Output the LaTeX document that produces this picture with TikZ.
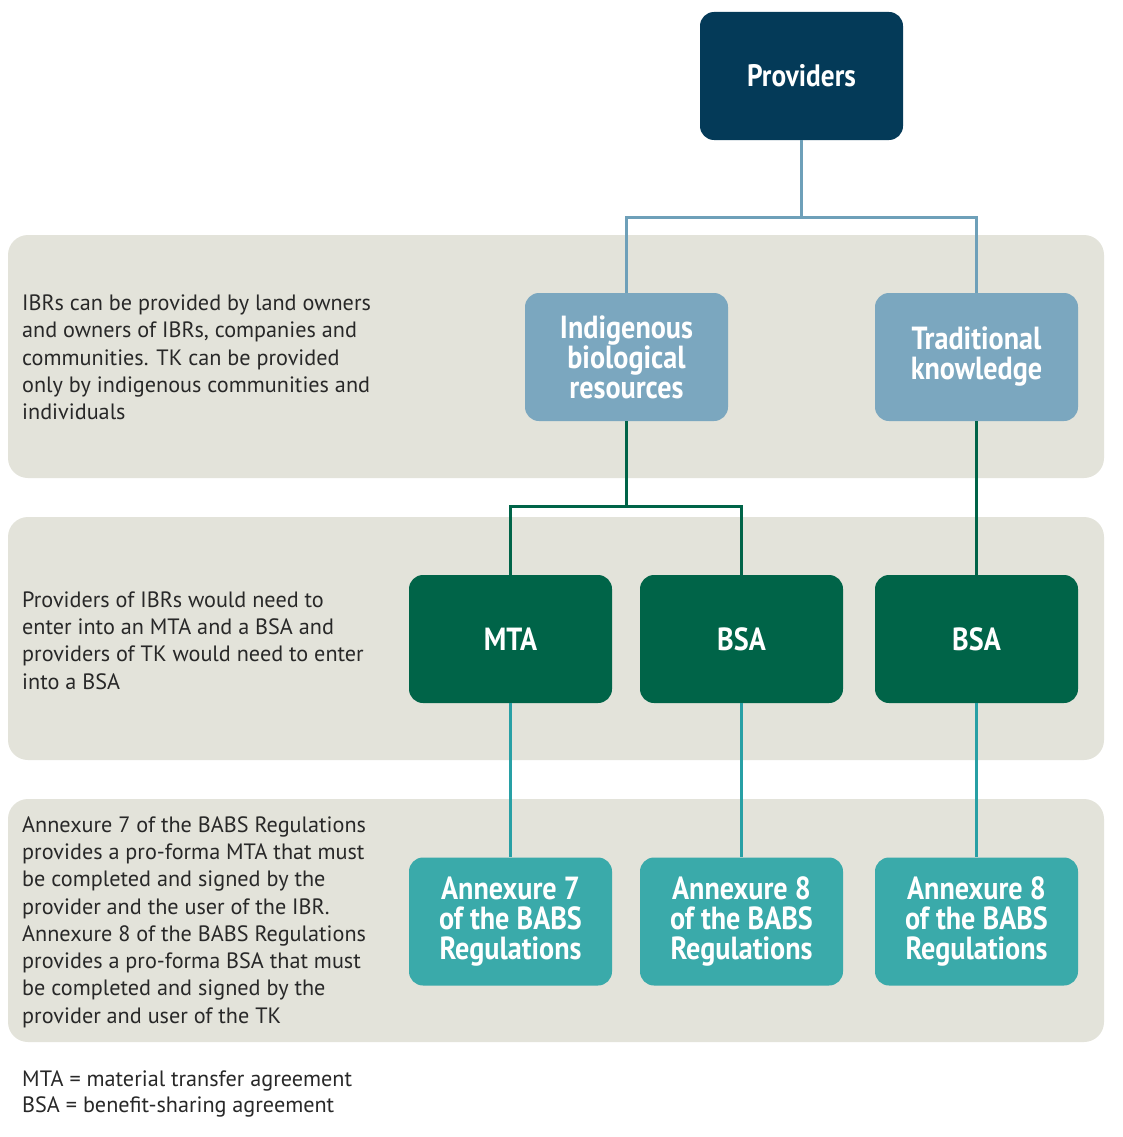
\documentclass[tikz,border=0pt]{standalone}
\usepackage{fontspec}
\setmainfont{PT Sans}
\newfontfamily\condfont{PT Sans}[FakeStretch=0.88]
\definecolor{navy}{RGB}{4,58,88}
\definecolor{lblue}{RGB}{123,167,191}
\definecolor{lbline}{RGB}{110,160,185}
\definecolor{dgreen}{RGB}{0,100,72}
\definecolor{tealbox}{RGB}{58,170,170}
\definecolor{tealline}{RGB}{40,160,165}
\definecolor{bandc}{RGB}{227,227,218}
\definecolor{txtc}{RGB}{40,40,40}
\tikzset{
  band/.style={fill=bandc, rounded corners=20pt},
  boxn/.style={rounded corners=14pt, minimum width=203pt, minimum height=128pt,
    text=white, align=center, inner sep=0pt},
  lefttext/.style={anchor=west, align=left, inner sep=0pt, text=txtc,
    font=\fontsize{22.2}{27.3}\selectfont},
  conn/.style={line width=3pt}
}
\begin{document}
\begin{tikzpicture}[x=1pt,y=-1pt]
\useasboundingbox (0,0) rectangle (1123,1137);
\fill[white] (0,0) rectangle (1123,1137);
% bands
\fill[band] (8,235) rectangle (1104,478);
\fill[band] (8,517) rectangle (1104,760);
\fill[band] (8,799) rectangle (1104,1042);
% boxes
\node[boxn, fill=navy, font=\condfont\bfseries\fontsize{31}{34}\selectfont] (prov) at (801.5,76) {Providers};
\node[boxn, fill=lblue, font=\condfont\bfseries\fontsize{32}{30}\selectfont] (ibr) at (626.5,357) {Indigenous\\biological\\resources};
\node[boxn, fill=lblue, font=\condfont\bfseries\fontsize{32}{30}\selectfont] (tk) at (976.5,357) {Traditional\\knowledge};
\node[boxn, fill=dgreen, font=\condfont\bfseries\fontsize{32}{30}\selectfont] (mta) at (510.5,639) {MTA};
\node[boxn, fill=dgreen, font=\condfont\bfseries\fontsize{32}{30}\selectfont] (bsa1) at (741.5,639) {BSA};
\node[boxn, fill=dgreen, font=\condfont\bfseries\fontsize{32}{30}\selectfont] (bsa2) at (976.5,639) {BSA};
\node[boxn, fill=tealbox, font=\condfont\bfseries\fontsize{32}{30}\selectfont] (a7) at (510.5,921.5) {Annexure 7\\of the BABS\\Regulations};
\node[boxn, fill=tealbox, font=\condfont\bfseries\fontsize{32}{30}\selectfont] (a8a) at (741.5,921.5) {Annexure 8\\of the BABS\\Regulations};
\node[boxn, fill=tealbox, font=\condfont\bfseries\fontsize{32}{30}\selectfont] (a8b) at (976.5,921.5) {Annexure 8\\of the BABS\\Regulations};
% connectors
\coordinate (j1) at (801.5,217);
\coordinate (j2) at (626.5,506);
\draw[conn, lbline] (prov.south) -- (j1);
\draw[conn, lbline] (ibr.north) |- (j1) -| (tk.north);
\draw[conn, dgreen] (ibr.south) -- (j2);
\draw[conn, dgreen] (mta.north) |- (j2) -| (bsa1.north);
\draw[conn, dgreen] (tk.south) -- (bsa2.north);
\draw[conn, tealline] (mta.south) -- (a7.north);
\draw[conn, tealline] (bsa1.south) -- (a8a.north);
\draw[conn, tealline] (bsa2.south) -- (a8b.north);
% left texts
\node[lefttext] (t1) at (22,357.5) {IBRs can be provided by land owners\\and owners of IBRs, companies and\\communities. TK can be provided\\only by indigenous communities and\\individuals};
\node[lefttext] (t2) at (22,640.5) {Providers of IBRs would need to\\enter into an MTA and a BSA and\\providers of TK would need to enter\\into a BSA};
\node[lefttext] (t3) at (22,922) {Annexure 7 of the BABS Regulations\\provides a pro-forma MTA that must\\be completed and signed by the\\provider and the user of the IBR.\\Annexure 8 of the BABS Regulations\\provides a pro-forma BSA that must\\be completed and signed by the\\provider and user of the TK};
\node[lefttext, font=\fontsize{22.2}{26}\selectfont] (t4) at (22,1094) {MTA = material transfer agreement\\BSA = benefit-sharing agreement};
\end{tikzpicture}
\end{document}
